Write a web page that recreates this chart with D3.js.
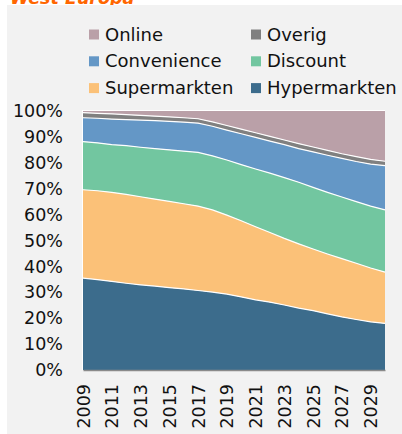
<!DOCTYPE html>
<html>
<head>
<meta charset="utf-8">
<script src="https://cdn.jsdelivr.net/npm/d3@7"></script>
<style>
  body { margin: 0; background: #fff; }
  text { font-family: "DejaVu Sans", Verdana, sans-serif; }
</style>
</head>
<body>
<svg id="chart"></svg>
<script>
// Data: share of sales per channel (%), West Europe
var years = [2009, 2010, 2011, 2012, 2013, 2014, 2015, 2016, 2017, 2018, 2019,
             2020, 2021, 2022, 2023, 2024, 2025, 2026, 2027, 2028, 2029, 2030];
var tickYears = [2009, 2011, 2013, 2015, 2017, 2019, 2021, 2023, 2025, 2027, 2029];
var yTicks = [0, 10, 20, 30, 40, 50, 60, 70, 80, 90, 100];

var hypermarkten = [35.5, 34.9, 34.2, 33.5, 32.9, 32.4, 31.8, 31.3, 30.7, 30.1, 29.3,
                    28.2, 27.1, 26.2, 25.1, 23.9, 22.9, 21.7, 20.5, 19.5, 18.6, 18.0];
var supermarkten = [34.1, 34.3, 34.4, 34.3, 34.0, 33.6, 33.3, 32.9, 32.6, 31.7, 30.5,
                    29.4, 28.2, 26.9, 25.7, 24.8, 23.8, 23.1, 22.5, 21.7, 20.8, 19.8];
var discount     = [18.6, 18.5, 18.4, 18.8, 19.1, 19.5, 19.9, 20.3, 20.7, 20.9, 21.3,
                    21.7, 22.3, 22.9, 23.5, 23.8, 23.8, 23.8, 23.8, 23.8, 23.9, 24.0];
var convenience  = [9.2, 9.5, 9.9, 10.1, 10.5, 10.8, 11.0, 11.2, 11.3, 11.4, 11.5,
                    11.9, 12.2, 12.4, 12.7, 13.0, 13.7, 14.3, 14.9, 15.5, 16.2, 17.1];
var overig       = [2.0, 1.9, 2.0, 1.9, 1.8, 1.7, 1.7, 1.7, 1.7, 1.7, 1.8,
                    1.8, 1.8, 1.8, 1.8, 1.9, 1.9, 1.9, 1.8, 1.9, 1.8, 1.7];
var online       = [0.6, 0.9, 1.1, 1.4, 1.7, 2.0, 2.3, 2.6, 3.0, 4.2, 5.6,
                    7.0, 8.4, 9.8, 11.2, 12.6, 13.9, 15.2, 16.5, 17.6, 18.7, 19.4];

var keys = ["Hypermarkten", "Supermarkten", "Discount", "Convenience", "Overig", "Online"];
var colors = {
    Hypermarkten: "#3c6c8c",
    Supermarkten: "#fbc178",
    Discount: "#72c6a0",
    Convenience: "#6497c6",
    Overig: "#808080",
    Online: "#baa0a8"
};
var legendRows = [["Online", "Overig"], ["Convenience", "Discount"], ["Supermarkten", "Hypermarkten"]];

// Build the table for d3.stack
var table = years.map(function(yr, i) {
    return {
        year: yr,
        Hypermarkten: hypermarkten[i],
        Supermarkten: supermarkten[i],
        Discount: discount[i],
        Convenience: convenience[i],
        Overig: overig[i],
        Online: online[i]
    };
});

var W = 402, H = 434;
var margin = {top: 111, right: 17, bottom: 64, left: 83},
    width = W - margin.left - margin.right,
    height = H - margin.top - margin.bottom;

var root = d3.select("#chart")
    .attr("width", W)
    .attr("height", H);

// Title (cut off by the panel, as in the source)
root.append("text")
    .attr("x", 10)
    .attr("y", 3.5)
    .attr("fill", "#ff6600")
    .style("font-size", "17.5px")
    .style("font-weight", "bold")
    .style("font-style", "italic")
    .text("West Europa");

// Gray panel
root.append("rect")
    .attr("x", 7)
    .attr("y", 5)
    .attr("width", W - 7)
    .attr("height", H - 5)
    .attr("fill", "#f2f2f2");

// Legend
legendRows.forEach(function(row, r) {
    row.forEach(function(name, c) {
        var lx = c === 0 ? 89 : 251;
        var ly = 40.5 + r * 26.8;
        root.append("rect")
            .attr("x", lx)
            .attr("y", ly - 11)
            .attr("width", 10)
            .attr("height", 10)
            .attr("fill", colors[name]);
        root.append("text")
            .attr("x", lx + 16)
            .attr("y", ly)
            .attr("fill", "#111")
            .style("font-size", "18px")
            .text(name);
    });
});

var svg = root.append("g")
    .attr("transform", "translate(" + margin.left + "," + margin.top + ")");

var xScale = d3.scaleLinear()
    .domain([years[0], years[years.length - 1]])
    .range([0, width]);

var yScale = d3.scaleLinear()
    .domain([0, 100])
    .range([height, 0]);

// Plot background
svg.append("rect")
    .attr("x", -1)
    .attr("y", -1)
    .attr("width", width + 1)
    .attr("height", height + 1)
    .attr("fill", "#fff");

var series = d3.stack().keys(keys)(table);

var area = d3.area()
    .x(d => xScale(d.data.year))
    .y0(d => yScale(d[0]))
    .y1(d => yScale(d[1]));

svg.selectAll(".layer")
    .data(series)
    .enter().append("path")
    .attr("class", "layer")
    .attr("d", area)
    .attr("fill", d => colors[d.key]);

// White separators on top of each layer (except the last one)
var topLine = d3.line()
    .x(d => xScale(d.data.year))
    .y(d => yScale(d[1]));

svg.selectAll(".sep")
    .data(series.slice(0, series.length - 1))
    .enter().append("path")
    .attr("class", "sep")
    .attr("d", topLine)
    .attr("fill", "none")
    .attr("stroke", "#fff")
    .attr("stroke-width", 1.2);

// Y axis
svg.append("g")
    .call(d3.axisLeft(yScale)
        .tickValues(yTicks)
        .tickFormat(d => d + "%")
        .tickSize(0)
        .tickPadding(20))
    .call(g => g.select(".domain").remove())
    .call(g => g.selectAll("text")
        .attr("fill", "#111")
        .style("font-size", "17.5px")
        .style("font-family", "'DejaVu Sans', Verdana, sans-serif"));

// X axis with rotated year labels
svg.append("g")
    .attr("transform", "translate(0," + height + ")")
    .call(d3.axisBottom(xScale)
        .tickValues(tickYears)
        .tickFormat(d3.format("d"))
        .tickSize(0)
        .tickSizeOuter(0))
    .call(g => g.select(".domain")
        .attr("stroke", "#8a8a8a")
        .attr("stroke-width", 1.5))
    .call(g => g.selectAll("text")
        .attr("fill", "#111")
        .attr("y", 0)
        .attr("x", -14)
        .attr("dy", "0.35em")
        .attr("transform", "rotate(-90)")
        .style("text-anchor", "end")
        .style("font-size", "17.5px")
        .style("font-family", "'DejaVu Sans', Verdana, sans-serif"));
</script>
</body>
</html>
